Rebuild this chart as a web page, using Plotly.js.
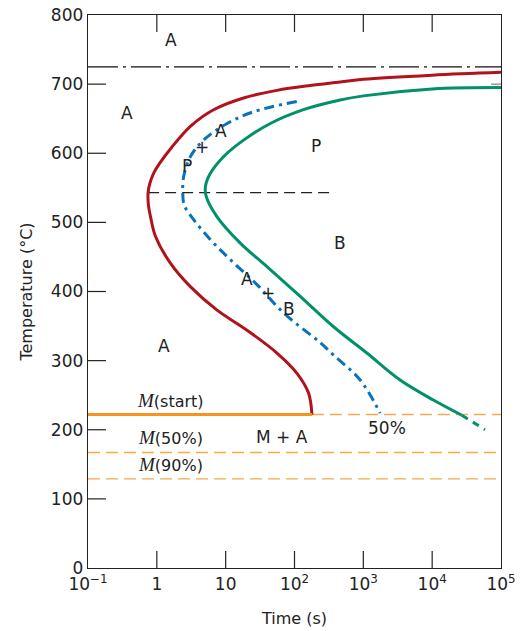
<!DOCTYPE html>
<html>
<head>
<meta charset="utf-8">
<script src="https://cdn.plot.ly/plotly-3.0.1.min.js"></script>
<style>
  html, body { margin: 0; padding: 0; background: #fff; }
  #chart { width: 528px; height: 631px; }
</style>
</head>
<body>
<div id="chart"></div>
<script>
// ---- data (time in s, temperature in °C) ----
const startTime = [100000, 10000, 1000, 461, 169, 55.6, 18.2, 6.68, 3.07, 1.627, 1.09, 0.908, 0.794, 0.747, 0.755, 0.807, 0.954, 1.574, 3.07, 7.5, 20.4, 55.6, 108, 160, 179];
const startTemp = [717, 713, 707, 703, 698, 691, 680, 663, 639, 608, 585, 572, 557, 543, 525, 509, 480, 441, 407, 373, 344, 311, 282, 253, 222];

const halfTime = [108, 25.4, 10.5, 4.78, 3.07, 2.45, 2.38, 2.5, 3.43, 6.0, 11.7, 28.5, 69.4, 236, 369, 900, 1754];
const halfTemp = [675, 660, 643, 619, 595, 566, 545, 525, 504, 475, 446, 410, 369, 326, 308, 272, 224];

const endTime = [100000, 10000, 1000, 461, 135, 44.5, 18.2, 9.3, 6.0, 5.1, 5.2, 7.5, 16.3, 39.8, 121, 369, 1125, 3420, 10400, 27000];
const endTemp = [695, 693, 683, 677, 663, 643, 619, 595, 571, 553, 538, 508, 470, 436, 393, 349, 311, 272, 243, 221];
const endTailTime = [27000, 58600];
const endTailTemp = [221, 200];

const eutectoidTime = [0.1, 100000];
const eutectoidTemp = [725, 725];
const noseLineTime = [0.747, 390];
const noseLineTemp = [543, 543];

const msSolidTime = [0.1, 179];
const msSolidTemp = [222, 222];
const msDashTime = [179, 100000];
const msDashTemp = [222, 222];
const m50Time = [0.1, 100000];
const m50Temp = [167, 167];
const m90Time = [0.1, 100000];
const m90Temp = [129, 129];

const xTickVals = [0.1, 1, 10, 100, 1000, 10000, 100000];
const xTickText = ['10<sup>\u22121</sup>', '1', '10', '10<sup>2</sup>', '10<sup>3</sup>', '10<sup>4</sup>', '10<sup>5</sup>'];
const yTickVals = [0, 100, 200, 300, 400, 500, 600, 700, 800];
const rightTickVals = [700];

const labelText = ['A', 'A', 'P', '+', 'A', 'P', 'B', 'A', '+', 'B', 'A', 'M + A', '50%'];
const labelTime = [1.63, 0.374, 2.78, 4.6, 8.6, 207, 462, 20.7, 41.7, 84, 1.25, 66, 2230];
const labelTemp = [764, 658, 582, 609, 632, 611, 470, 418, 398, 375, 321, 190, 203];

const mLabelText = ['(start)', '(50%)', '(90%)'];
const mLabelTime = [1.57, 1.57, 1.57];
const mLabelTemp = [242, 189, 150];

// ---- style ----
const RED = '#b1121c';
const BLUE = '#0a72bb';
const GREEN = '#00906a';
const ORANGE = '#f7941d';
const ORANGE_LIGHT = '#f9a84a';
const FONT = 'DejaVu Sans, sans-serif';
const INK = '#222';
const PLOT_W = 413.5, PLOT_H = 553;
const X_TICK_LEN = 17, Y_TICK_LEN = 18;

const traces = [
  {x: eutectoidTime, y: eutectoidTemp, mode: 'lines', line: {color: '#111', width: 1.1, dash: '30px,5px,3px,5px'}},
  {x: noseLineTime, y: noseLineTemp, mode: 'lines', line: {color: INK, width: 1.1, dash: '11px,6px'}},
  {x: m50Time, y: m50Temp, mode: 'lines', line: {color: ORANGE_LIGHT, width: 1.4, dash: '12px,6px'}},
  {x: m90Time, y: m90Temp, mode: 'lines', line: {color: ORANGE_LIGHT, width: 1.4, dash: '12px,6px'}},
  {x: msDashTime, y: msDashTemp, mode: 'lines', line: {color: ORANGE_LIGHT, width: 1.4, dash: '12px,6px'}},
  {x: startTime, y: startTemp, mode: 'lines', line: {color: RED, width: 3, shape: 'spline', smoothing: 1}},
  {x: halfTime, y: halfTemp, mode: 'lines', line: {color: BLUE, width: 3, shape: 'spline', smoothing: 1, dash: '10px,5px,3px,5px'}},
  {x: endTime, y: endTemp, mode: 'lines', line: {color: GREEN, width: 3, shape: 'spline', smoothing: 1}},
  {x: endTailTime, y: endTailTemp, mode: 'lines', line: {color: GREEN, width: 3, dash: '7px,6px'}},
  {x: msSolidTime, y: msSolidTemp, mode: 'lines', line: {color: ORANGE, width: 3}}
];

const annotations = [];
for (let i = 0; i < labelText.length; i++) {
  annotations.push({x: Math.log10(labelTime[i]), y: labelTemp[i], text: labelText[i], showarrow: false,
    font: {family: FONT, size: 17, color: INK}, xanchor: 'center', yanchor: 'middle'});
}
for (let i = 0; i < mLabelText.length; i++) {
  annotations.push({x: Math.log10(mLabelTime[i]), y: mLabelTemp[i],
    text: '<i><span style="font-family:Liberation Serif;font-size:19px">M</span></i>' + mLabelText[i],
    showarrow: false, font: {family: FONT, size: 16, color: INK}, xanchor: 'center', yanchor: 'middle'});
}

// axis tick marks (inside), built from the tick value arrays
const shapes = [];
xTickVals.slice(1, -1).forEach(v => {
  shapes.push({type: 'line', layer: 'above', xref: 'x', yref: 'y domain', x0: v, x1: v, y0: 0, y1: X_TICK_LEN / PLOT_H, line: {color: INK, width: 1.2}});
  shapes.push({type: 'line', layer: 'above', xref: 'x', yref: 'y domain', x0: v, x1: v, y0: 1 - X_TICK_LEN / PLOT_H, y1: 1, line: {color: INK, width: 1.2}});
});
yTickVals.slice(1, -1).forEach(v => {
  shapes.push({type: 'line', layer: 'above', xref: 'x domain', yref: 'y', x0: 0, x1: Y_TICK_LEN / PLOT_W, y0: v, y1: v, line: {color: INK, width: 1.2}});
});
rightTickVals.forEach(v => {
  shapes.push({type: 'line', layer: 'below', xref: 'x domain', yref: 'y', x0: 1 - 10 / PLOT_W, x1: 1, y0: v, y1: v, line: {color: '#666', width: 1}});
});

const layout = {
  width: 528, height: 631,
  margin: {l: 87.5, r: 27, t: 15, b: 63},
  paper_bgcolor: '#fff', plot_bgcolor: '#fff',
  showlegend: false, hovermode: false,
  font: {family: FONT, size: 17, color: INK},
  xaxis: {
    type: 'log', range: [-1, 5], tickmode: 'array', tickvals: xTickVals, ticktext: xTickText,
    ticks: '', showline: true, linecolor: INK, linewidth: 1.3, mirror: true,
    showgrid: false, zeroline: false,
    tickfont: {family: FONT, size: 17, color: INK},
    title: {text: 'Time (s)', font: {family: FONT, size: 16, color: INK}, standoff: 20}
  },
  yaxis: {
    range: [0, 800], tickmode: 'array', tickvals: yTickVals,
    ticks: '', showline: true, linecolor: INK, linewidth: 1.3, mirror: true,
    showgrid: false, zeroline: false,
    tickfont: {family: FONT, size: 17, color: INK},
    title: {text: 'Temperature (°C)', font: {family: FONT, size: 16, color: INK}, standoff: 14}
  },
  shapes: shapes,
  annotations: annotations
};

Plotly.newPlot('chart', traces, layout, {displayModeBar: false, staticPlot: true});
</script>
</body>
</html>
